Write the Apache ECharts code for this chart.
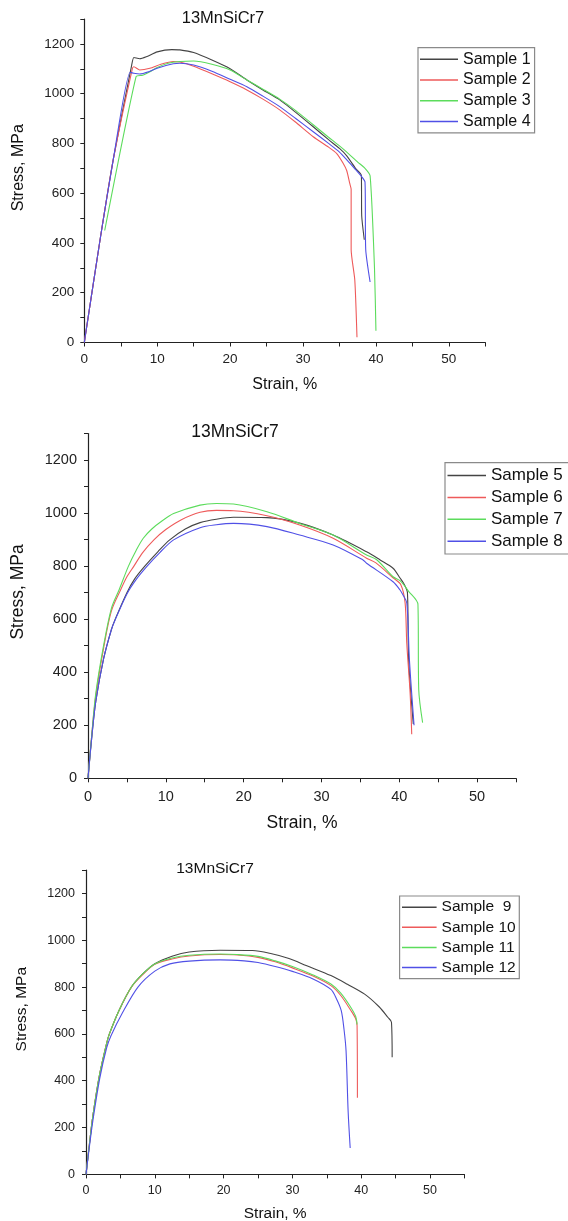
<!DOCTYPE html>
<html>
<head>
<meta charset="utf-8">
<script src="https://cdn.jsdelivr.net/npm/echarts@6/dist/echarts.min.js"></script>
<style>
html,body{margin:0;padding:0;background:#fff;}
#c{width:568px;height:1221px;}
</style>
</head>
<body>
<div id="c"></div>
<script>
// ---------- data ----------
const chartTitle = '13MnSiCr7';
const xName = 'Strain, %';
const yName = 'Stress, MPa';

// Chart 1
const names1 = ['Sample 1', 'Sample 2', 'Sample 3', 'Sample 4'];
const s1 = [[0,0],[2.2,420],[4,740],[6.5,1115],[6.8,1145],[7.6,1140],[8.5,1148],[10,1168],[12,1177],[13.1,1176],[15,1165],[17.5,1135],[20,1100],[22.3,1055],[24.5,1015],[26.8,975],[29,925],[31.4,867],[33.5,815],[35,780],[36,750],[37.2,700],[38.0,672],[38.05,508],[38.4,413]];
const s2 = [[0,0],[2.2,420],[4,740],[6.6,1102],[6.8,1108],[7.6,1095],[9,1102],[10.5,1118],[12.2,1129],[13.1,1127],[15,1110],[17.5,1080],[20,1048],[22.3,1015],[24.5,978],[26.8,935],[29,885],[31.4,827],[33.5,785],[34.6,760],[35.5,720],[36.0,690],[36.4,640],[36.6,616],[36.6,373],[37.1,251],[37.4,21]];
const s3 = [[2.8,450],[7.1,1068],[8,1074],[9,1088],[10,1105],[11.5,1122],[13.1,1129],[15,1131],[17.5,1118],[20,1095],[22.3,1055],[24.5,1018],[26.8,978],[29,932],[31.4,875],[33.5,825],[35,790],[36,765],[37.5,725],[38.5,700],[39.2,670],[39.8,300],[40,47]];
const s4 = [[0,0],[2.2,420],[4,740],[6.3,1086],[6.8,1082],[7.6,1079],[9,1090],[10,1102],[12.2,1120],[13.1,1122],[15,1115],[17.5,1090],[20,1058],[22.3,1028],[24.5,990],[26.8,948],[29,900],[31.4,847],[33.5,800],[35,765],[36,734],[37.2,695],[38.05,666],[38.5,645],[38.6,373],[39.2,243]];

// Chart 2
const names2 = ['Sample 5', 'Sample 6', 'Sample 7', 'Sample 8'];
const s5 = [[0,0],[0.5,160],[1,290],[2,450],[3,560],[3.5,600],[5,700],[6,752],[7.3,800],[9,855],[10.5,899],[12.5,940],[14.4,964],[16.5,977],[18.7,984],[23,983],[27.2,962],[31.5,917],[35.8,854],[37.5,824],[39.2,792],[40.1,755],[40.7,728],[41.05,700],[41.2,449],[41.8,205]];
const s6 = [[0,0],[0.5,170],[1,310],[2,490],[3,630],[4.2,711],[5,760],[5.9,800],[7,850],[8.5,900],[10,938],[12,975],[14.4,1003],[16.5,1010],[18.7,1009],[23,990],[27.2,955],[31.5,905],[35.8,830],[37,812],[39.2,756],[40.2,730],[40.75,661],[40.96,511],[41.39,323],[41.6,166]];
const s7 = [[0,0],[0.5,170],[1,320],[2,500],[3,640],[4,711],[5.2,800],[6.2,860],[7.1,905],[8.2,940],[9.5,970],[11,998],[14.4,1030],[16.5,1036],[18.7,1034],[23,1005],[27.2,961],[31.5,917],[35.8,842],[37.1,824],[39.2,760],[40.1,745],[41.2,705],[42.4,655],[42.5,335],[43.0,210]];
const s8 = [[0,0],[0.5,160],[1,290],[2,450],[3,560],[3.5,598],[5,695],[6.2,750],[7.6,800],[9.2,850],[11,899],[14.4,945],[16.5,956],[18.7,961],[23,949],[27.2,917],[31.5,880],[35.3,824],[35.8,811],[39.2,741],[40.1,710],[40.5,690],[40.97,661],[41.3,449],[41.9,200]];

// Chart 3
const names3 = ['Sample  9', 'Sample 10', 'Sample 11', 'Sample 12'];
const s9 = [[0,0],[0.5,130],[1,250],[2,430],[3,560],[3.4,600],[4.8,700],[6.6,800],[8.2,855],[10,900],[12.5,932],[15,950],[19.5,957],[24.2,956],[27,942],[29.5,922],[32,892],[35.6,849],[38,812],[40.5,770],[42.6,716],[43.9,670],[44.4,650],[44.5,500]];
const s10 = [[0,0],[0.5,130],[1,250],[2,430],[3,560],[3.4,600],[4.8,700],[6.6,800],[8.2,852],[10,897],[12.5,920],[15,933],[19.5,939],[22,937],[25,927],[27.5,908],[30,882],[33,847],[35.6,806],[37,765],[38.5,700],[39.2,665],[39.4,635],[39.45,327]];
const s11 = [[0,0],[0.5,130],[1,250],[2,430],[3,560],[3.4,600],[4.8,700],[6.6,800],[8.2,855],[10,899],[12.5,924],[15,936],[19.5,941],[22,939],[25,931],[27.5,912],[30,888],[33,852],[35.6,813],[37,775],[38.5,713],[39.2,675],[39.4,640]];
const s12 = [[0,0],[0.5,120],[1,230],[2,410],[3,540],[3.6,590],[5.3,690],[7.55,800],[10,868],[12.2,899],[15,911],[19.5,916],[23,912],[25,905],[27.5,888],[30,867],[33,835],[35.6,790],[36.4,750],[37.1,699],[37.5,620],[37.8,527],[38.1,270],[38.4,113]];

const xMin = 0, xMax = 55, xStep = 5, xLabelEvery = 10;
const yMin = 0, yMax = 1300, yStep = 100, yLabelEvery = 200;

// ---------- layout / style ----------
const colors = ['#444444', '#ee5a5a', '#5cdc5c', '#5050e6'];
const FONT = '"Liberation Sans", Arial, sans-serif';
const layouts = [
  {grid:{left:84.3, top:19, width:401, height:323.5}, tick:13.5, name:16, title:16.5, titleX:223, titleTop:10,
   xGap:34.5, yGap:57.5, yShift:26, xMargin:9.8, yMargin:10, smooth:0.2,
   legend:{left:418, top:47.7, font:16, gap:4.7, iw:38, pad:[3.6,4,3.4,2]}},
  {grid:{left:88, top:433.5, width:428, height:344.8}, tick:14.5, name:17.5, title:17.5, titleX:235, titleTop:423,
   xGap:36, yGap:61, yShift:28, xMargin:11, yMargin:11, smooth:0.3,
   legend:{left:445, top:462.7, font:17, gap:4.9, iw:38.5, pad:[4.3,20,4.3,2.5]}},
  {grid:{left:86, top:870, width:378.4, height:304.4}, tick:12.5, name:15.5, title:15.5, titleX:215, titleTop:860.5,
   xGap:31.3, yGap:56.5, yShift:26, xMargin:10, yMargin:11, smooth:0.3,
   legend:{left:399.6, top:896, font:15.5, gap:4.1, iw:34.6, pad:[3.2,3.6,3.2,2.4]}}
];
const allNames = [names1, names2, names3];
const allData = [[s1,s2,s3,s4],[s5,s6,s7,s8],[s9,s10,s11,s12]];

const option = {
  animation: false,
  backgroundColor: '#fff',
  title: [], grid: [], xAxis: [], yAxis: [], legend: [], series: []
};

layouts.forEach((L, i) => {
  option.title.push({
    text: chartTitle, left: L.titleX, top: L.titleTop, textAlign: 'center', padding: 0,
    textStyle: {fontFamily: FONT, fontSize: L.title, fontWeight: 'normal', color: '#111'}
  });
  option.grid.push(Object.assign({outerBoundsMode: 'none', containLabel: false}, L.grid));
  const axisCommon = {
    axisLine: {show: true, onZero: false, lineStyle: {color: '#222', width: 1.2}},
    axisTick: {show: true, inside: false, length: 4, lineStyle: {color: '#222', width: 1}},
    splitLine: {show: false},
    minorTick: {show: false}
  };
  option.xAxis.push(Object.assign({}, axisCommon, {
    gridIndex: i, type: 'value', min: xMin, max: xMax, interval: xStep,
    name: xName, nameLocation: 'middle', nameGap: L.xGap,
    nameTextStyle: {fontFamily: FONT, fontSize: L.name, color: '#111'},
    axisLabel: {fontFamily: FONT, fontSize: L.tick, color: '#222', margin: L.xMargin,
      formatter: v => (v % xLabelEvery === 0 ? String(v) : '')}
  }));
  option.yAxis.push(Object.assign({}, axisCommon, {
    gridIndex: i, type: 'value', min: yMin, max: yMax, interval: yStep,
    name: yName, nameLocation: 'middle', nameGap: L.yGap,
    nameTextStyle: {fontFamily: FONT, fontSize: L.name, color: '#111', padding: [0, 0, 0, L.yShift]},
    axisLabel: {fontFamily: FONT, fontSize: L.tick, color: '#222', margin: L.yMargin,
      formatter: v => (v % yLabelEvery === 0 ? String(v) : '')}
  }));
  option.legend.push({
    data: allNames[i].map((n, k) => ({name: n, icon: 'rect', itemStyle: {color: colors[k], borderWidth: 0}})),
    orient: 'vertical', left: L.legend.left, top: L.legend.top,
    itemWidth: L.legend.iw, itemHeight: 1.5, itemGap: L.legend.gap,
    padding: L.legend.pad, borderColor: '#8a8a8a', borderWidth: 1.2,
    backgroundColor: '#fff',
    selectedMode: false,
    textStyle: {fontFamily: FONT, fontSize: L.legend.font, lineHeight: L.legend.font, color: '#111'}
  });
  allData[i].forEach((d, k) => {
    option.series.push({
      name: allNames[i][k], type: 'line', xAxisIndex: i, yAxisIndex: i,
      data: d, symbol: 'none', showSymbol: false, smooth: L.smooth,
      color: colors[k],
      lineStyle: {color: colors[k], width: 1.1}
    });
  });
});

const chart = echarts.init(document.getElementById('c'), null, {renderer: 'canvas'});
chart.setOption(option);
</script>
</body>
</html>
